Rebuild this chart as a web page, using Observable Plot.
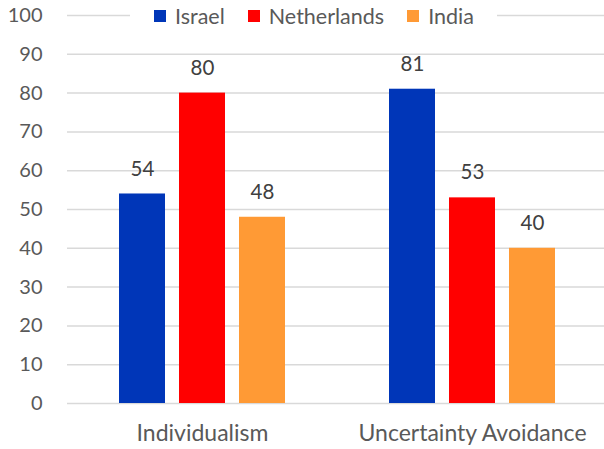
<!DOCTYPE html>
<html>
<head>
<meta charset="utf-8">
<script src="https://cdn.jsdelivr.net/npm/d3@7"></script>
<script src="https://cdn.jsdelivr.net/npm/@observablehq/plot@0.6"></script>
<style>
  html, body { margin: 0; padding: 0; background: #fff; }
  #wrap { position: relative; width: 604px; height: 449px; overflow: hidden; font-family: Lato, "Noto Sans", sans-serif; }
  #legend { position: absolute; top: 4px; left: 130px; width: 367px; height: 24px; background: #fff; box-sizing: border-box; padding-left: 24px;
            display: flex; align-items: center; justify-content: flex-start; gap: 23px; font-size: 21.5px; color: #595959; }
  #legend .item { display: flex; align-items: center; gap: 9px; }
  #legend .sw { width: 12px; height: 12px; display: inline-block; }
</style>
</head>
<body>
<div id="wrap"></div>
<script>
const traits = ["Individualism", "Uncertainty Avoidance"];
const countries = ["Israel", "Netherlands", "India"];
const israel = [54, 81];
const netherlands = [80, 53];
const india = [48, 40];
const colors = ["#0036b8", "#ff0000", "#ff9a35"];
const yTicks = [0, 10, 20, 30, 40, 50, 60, 70, 80, 90, 100];

const series = [israel, netherlands, india];
const data = [];
traits.forEach((t, i) => countries.forEach((c, j) => data.push({trait: t, country: c, value: series[j][i]})));

const chart = Plot.plot({
  width: 604,
  height: 449,
  marginLeft: 67,
  marginRight: 0,
  marginTop: 15,
  marginBottom: 46,
  style: {fontFamily: "Lato, 'Noto Sans', sans-serif", fontSize: "20px", color: "#595959", background: "#fff"},
  fx: {domain: traits, padding: 0, range: [67, 607], label: null},
  x: {domain: countries, paddingInner: 0.233, paddingOuter: 0.85, axis: null},
  y: {domain: [0, 100], ticks: yTicks, label: null, tickSize: 0, tickPadding: 25},
  color: {domain: countries, range: colors},
  marks: [
    Plot.ruleY(yTicks, {stroke: "#d9d9d9", strokeWidth: 1.5}),
    Plot.barY(data, {fx: "trait", x: "country", y: "value", fill: "country"}),
    Plot.text(data, {fx: "trait", x: "country", y: "value", text: d => String(d.value), dy: -25, fill: "#404040", fontSize: 20.5}),
    Plot.axisFx({anchor: "bottom", tickSize: 0, tickPadding: 21, fontSize: 23, label: null})
  ]
});

const wrap = document.getElementById("wrap");
wrap.appendChild(chart);
const legend = document.createElement("div");
legend.id = "legend";
countries.forEach((c, i) => {
  const it = document.createElement("span");
  it.className = "item";
  const sw = document.createElement("span");
  sw.className = "sw";
  sw.style.background = colors[i];
  const tx = document.createElement("span");
  tx.textContent = c;
  it.appendChild(sw); it.appendChild(tx);
  legend.appendChild(it);
});
wrap.appendChild(legend);
</script>
</body>
</html>
